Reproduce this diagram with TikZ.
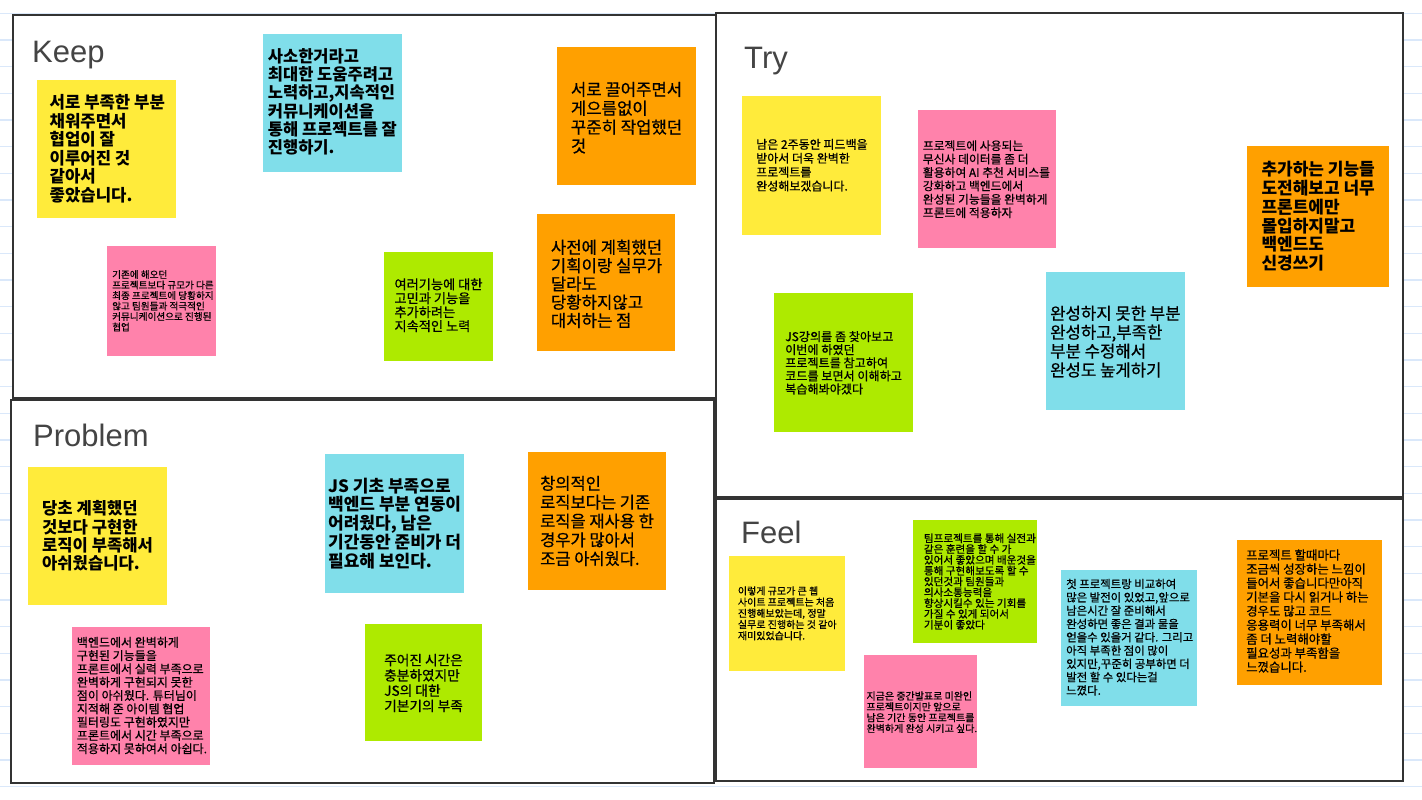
\documentclass[tikz,border=0pt]{standalone}
\usepackage{fontspec}
\setmainfont{Liberation Sans}
\newfontfamily\kr{Noto Sans CJK KR}
\newfontfamily\krmed{Noto Sans CJK KR}[FakeBold=0.6]
\definecolor{noteyellow}{RGB}{255,235,59}
\definecolor{notepink}{RGB}{255,130,171}
\definecolor{notecyan}{RGB}{128,222,234}
\definecolor{notegreen}{RGB}{174,234,0}
\definecolor{noteorange}{RGB}{255,160,0}
\definecolor{ruled}{RGB}{218,232,250}
\definecolor{framegray}{RGB}{51,51,51}
\definecolor{titlegray}{RGB}{68,68,68}
\newcommand\memofont[2]{\krmed\fontsize{#1}{#2}\selectfont}
\newcommand\boldmemofont[2]{\kr\bfseries\fontsize{#1}{#2}\selectfont}
\tikzset{
  frame/.style={draw=framegray,line width=1.6pt,fill=white},
  title/.style={anchor=base west,inner sep=0pt,text=titlegray,font=\fontsize{31}{36}\selectfont},
  memo/.style={anchor=west,inner sep=0pt,align=left,text=black},
}
\begin{document}
\begin{tikzpicture}[x=1pt,y=-1pt]
\useasboundingbox (0,0) rectangle (1422,800);
% ruled paper behind the board
\foreach \k in {0,...,29}
  \draw[ruled,line width=1.2pt] (0,13.33+26.67*\k) -- (1422,13.33+26.67*\k);
% the four areas
\draw[frame] (13,15) rectangle (716,398);
\draw[frame] (11,400) rectangle (714,783);
\draw[frame] (716,13) rectangle (1403,497);
\draw[frame] (716,499) rectangle (1403,781);
\node[title] (keep) at (32,63) {Keep};
\node[title] (try) at (744,69) {Try};
\node[title] (problem) at (33,446) {Problem};
\node[title] (feel) at (741,543) {Feel};

% Keep
\fill[noteyellow] (37,80) rectangle (176,218);
\node[memo,font=\boldmemofont{16.7}{18.5}] (keepA) at (49.5,149) {서로 부족한 부분\\채워주면서\\협업이 잘\\이루어진 것\\같아서\\좋았습니다.};
\fill[notepink] (107,246) rectangle (216,356);
\node[memo,font=\memofont{9.6}{10.5}] (keepB) at (112,300.7) {기존에 해오던\\프로젝트보다 규모가 다른\\최종 프로젝트에 당황하지\\않고 팀원들과 적극적인\\커뮤니케이션으로 진행된\\협업};
\fill[notecyan] (263,34) rectangle (402,172);
\node[memo,font=\boldmemofont{16.5}{18.3}] (keepC) at (267.7,101.8) {사소한거라고\\최대한 도움주려고\\노력하고,지속적인\\커뮤니케이션을\\통해 프로젝트를 잘\\진행하기.};
\fill[notegreen] (384,252) rectangle (493,361);
\node[memo,font=\memofont{13.2}{13.9}] (keepD) at (394.3,305.2) {여러기능에 대한\\고민과 기능을\\추가하려는\\지속적인 노력};
\fill[noteorange] (557,47) rectangle (696,185);
\node[memo,font=\memofont{16.7}{18.9}] (keepE) at (570.7,117.7) {서로 끌어주면서\\게으름없이\\꾸준히 작업했던\\것};
\fill[noteorange] (537,214) rectangle (675,351);
\node[memo,font=\memofont{16.7}{18.3}] (keepF) at (550.7,283.9) {사전에 계획했던\\기획이랑 실무가\\달라도\\당황하지않고\\대처하는 점};

% Try
\fill[noteyellow] (742,96) rectangle (881,235);
\node[memo,font=\memofont{12}{13.9}] (tryA) at (756,165.2) {남은 2주동안 피드백을\\받아서 더욱 완벽한\\프로젝트를\\완성해보겠습니다.};
\fill[notepink] (918,110) rectangle (1056,248);
\node[memo,font=\memofont{11.8}{13.4}] (tryB) at (922.7,179.2) {프로젝트에 사용되는\\무신사 데이터를 좀 더\\활용하여 AI 추천 서비스를\\강화하고 백엔드에서\\완성된 기능들을 완벽하게\\프론트에 적용하자};
\fill[notegreen] (774,293) rectangle (913,432);
\node[memo,font=\memofont{12.1}{13.1}] (tryC) at (785,362.8) {JS강의를 좀 찾아보고\\이번에 하였던\\프로젝트를 참고하여\\코드를 보면서 이해하고\\복습해봐야겠다};
\fill[noteorange] (1247,146) rectangle (1389,287);
\node[memo,font=\boldmemofont{17}{18.8}] (tryD) at (1261.3,216.3) {추가하는 기능들\\도전해보고 너무\\프론트에만\\몰입하지말고\\백엔드도\\신경쓰기};
\fill[notecyan] (1046,272) rectangle (1185,410);
\node[memo,font=\memofont{16.7}{18.9}] (tryE) at (1050,341.7) {완성하지 못한 부분\\완성하고,부족한\\부분 수정해서\\완성도 높게하기};

% Problem
\fill[noteyellow] (28,467) rectangle (167,605);
\node[memo,font=\boldmemofont{16.6}{18.2}] (probA) at (42,536) {당초 계획했던\\것보다 구현한\\로직이 부족해서\\아쉬웠습니다.};
\fill[notepink] (72,627) rectangle (210,765);
\node[memo,font=\memofont{12}{13.3}] (probB) at (76.7,695.5) {백엔드에서 완벽하게\\구현된 기능들을\\프론트에서 실력 부족으로\\완벽하게 구현되지 못한\\점이 아쉬웠다. 튜터님이\\지적해 준 아이템 협업\\필터링도 구현하였지만\\프론트에서 시간 부족으로\\적용하지 못하여서 아쉽다.};
\fill[notecyan] (325,454) rectangle (464,593);
\node[memo,font=\boldmemofont{17}{18.7}] (probC) at (328,523.3) {JS 기초 부족으로\\백엔드 부분 연동이\\어려웠다, 남은\\기간동안 준비가 더\\필요해 보인다.};
\fill[noteorange] (528,452) rectangle (666,590);
\node[memo,font=\memofont{16.5}{18.8}] (probD) at (540,521) {창의적인\\로직보다는 기존\\로직을 재사용 한\\경우가 많아서\\조금 아쉬웠다.};
\fill[notegreen] (365,624) rectangle (482,741);
\node[memo,font=\memofont{13.7}{15.3}] (probE) at (384,683) {주어진 시간은\\충분하였지만\\JS의 대한\\기본기의 부족};

% Feel
\fill[noteyellow] (729,556) rectangle (845,671);
\node[memo,font=\memofont{10}{11.2}] (feelA) at (737.7,613.3) {이렇게 규모가 큰 웹\\사이트 프로젝트는 처음\\진행해보았는데, 정말\\실무로 진행하는 것 같아\\재미있었습니다.};
\fill[notegreen] (913,520) rectangle (1037,643);
\node[memo,font=\memofont{10.6}{10.8}] (feelB) at (923.7,581.5) {팀프로젝트를 통해 실전과\\같은 훈련을 할 수 가\\있어서 좋았으며 배운것을\\통해 구현해보도록 할 수\\있던것과 팀원들과\\의사소통능력을\\향상시킬수 있는 기회를\\가질 수 있게 되어서\\기분이 좋았다};
\fill[notepink] (864,655) rectangle (977,768);
\node[memo,font=\memofont{10}{10.8}] (feelC) at (866.3,712.2) {지금은 중간발표로 미완인\\프로젝트이지만 앞으로\\남은 기간 동안 프로젝트를\\완벽하게 완성 시키고 싶다.};
\fill[notecyan] (1061,570) rectangle (1197,706);
\node[memo,font=\memofont{11.4}{13.3}] (feelD) at (1066,637.2) {첫 프로젝트랑 비교하여\\많은 발전이 있었고,앞으로\\남은시간 잘 준비해서\\완성하면 좋은 결과 물을\\얻을수 있을거 같다. 그리고\\아직 부족한 점이 많이\\있지만,꾸준히 공부하면 더\\발전 할 수 있다는걸\\느꼈다.};
\fill[noteorange] (1237,540) rectangle (1382,685);
\node[memo,font=\memofont{12.4}{14}] (feelE) at (1246,611) {프로젝트 할때마다\\조금씩 성장하는 느낌이\\들어서 좋습니다만아직\\기본을 다시 읽거나 하는\\경우도 많고 코드\\응용력이 너무 부족해서\\좀 더 노력해야할\\필요성과 부족함을\\느꼈습니다.};
\end{tikzpicture}
\end{document}
